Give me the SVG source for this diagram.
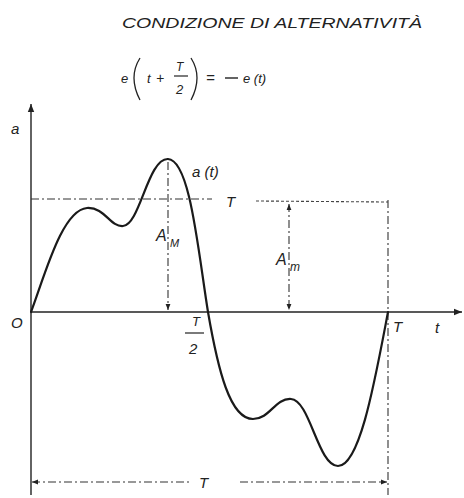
<svg xmlns="http://www.w3.org/2000/svg" width="464" height="498" viewBox="0 0 464 498">
<defs>
<style>
.t{font-family:"Liberation Sans",Arial,sans-serif;font-style:italic;fill:#222;}
.ax{stroke:#222;stroke-width:1.4;fill:none;}
.cv{stroke:#1a1a1a;stroke-width:2.2;fill:none;stroke-linejoin:round;stroke-linecap:round;}
.dd{stroke:#333;stroke-width:1.1;fill:none;stroke-dasharray:8 3 2 3;}
.dt{stroke:#444;stroke-width:1.1;fill:none;stroke-dasharray:3 2;}
</style>
<marker id="ah" viewBox="0 0 10 10" refX="10" refY="5" markerWidth="8" markerHeight="8" orient="auto-start-reverse" markerUnits="userSpaceOnUse">
<path d="M0,1 L10,5 L0,9 Z" fill="#222"/>
</marker>
<marker id="sa" viewBox="0 0 10 10" refX="10" refY="5" markerWidth="6" markerHeight="6" orient="auto-start-reverse" markerUnits="userSpaceOnUse">
<path d="M0,1 L10,5 L0,9 Z" fill="#222"/>
</marker>
</defs>
<rect width="464" height="498" fill="#fff"/>

<g id="title">
<text class="t" x="122" y="28" font-size="14" textLength="300" lengthAdjust="spacingAndGlyphs">CONDIZIONE DI ALTERNATIVITÀ</text>
</g>

<g id="formula">
<text class="t" x="121" y="83" font-size="13">e</text>
<path d="M140,58 Q128,77 140,100" fill="none" stroke="#222" stroke-width="1.3"/>
<text class="t" x="147" y="83" font-size="13">t</text>
<text class="t" x="156" y="83" font-size="14">+</text>
<text class="t" x="176" y="71" font-size="12">T</text>
<line x1="174" y1="76" x2="188" y2="76" stroke="#222" stroke-width="1.2"/>
<text class="t" x="176" y="94" font-size="13">2</text>
<path d="M191,58 Q203,77 191,100" fill="none" stroke="#222" stroke-width="1.3"/>
<text class="t" x="206" y="83" font-size="15">=</text>
<line x1="225" y1="78" x2="238" y2="78" stroke="#222" stroke-width="1.4"/>
<text class="t" x="243" y="83" font-size="13">e (t)</text>
</g>

<g id="axes">
<line class="ax" x1="31" y1="495" x2="31" y2="104" marker-end="url(#ah)"/>
<line class="ax" x1="31" y1="312" x2="462" y2="312" marker-end="url(#ah)"/>
<text class="t" x="11" y="134" font-size="15">a</text>
<text class="t" x="11" y="328" font-size="15">O</text>
<text class="t" x="435" y="333" font-size="15">t</text>
</g>

<g id="connectors">
<line class="dd" x1="31" y1="199" x2="212" y2="199"/>
<line class="dt" x1="256" y1="201" x2="388" y2="202"/>
<line class="dd" x1="168" y1="162" x2="168" y2="310" marker-end="url(#sa)"/>
<line class="dd" x1="289" y1="204" x2="289" y2="310" marker-start="url(#sa)" marker-end="url(#sa)"/>
<line class="dd" x1="388" y1="200" x2="388" y2="495"/>
<line class="dd" x1="32" y1="482" x2="190" y2="482" marker-start="url(#sa)"/>
<line class="dd" x1="240" y1="482" x2="387" y2="482" marker-end="url(#sa)"/>
</g>

<g id="curve">
<path class="cv" d="M31,312 C45,275 62,210 87,208 C105,207 110,227 123,226 C140,225 148,158 168,159 C190,160 198,250 208,312 C218,370 230,419 253,419 C270,419 275,398 291,399 C310,400 318,466 338,466 C360,466 375,380 388,312"/>
</g>

<g id="labels">
<text class="t" x="192" y="177" font-size="15">a (t)</text>
<text class="t" x="226" y="207" font-size="15">T</text>
<text class="t" x="156" y="241" font-size="16">A</text>
<text class="t" x="170" y="247" font-size="11">M</text>
<text class="t" x="276" y="265" font-size="16">A</text>
<text class="t" x="290" y="271" font-size="12">m</text>
<text class="t" x="192" y="326" font-size="13">T</text>
<line x1="185" y1="333" x2="204" y2="333" stroke="#222" stroke-width="1.2"/>
<text class="t" x="189" y="354" font-size="15">2</text>
<text class="t" x="393" y="332" font-size="15">T</text>
<text class="t" x="199" y="488" font-size="15">T</text>
</g>
</svg>
